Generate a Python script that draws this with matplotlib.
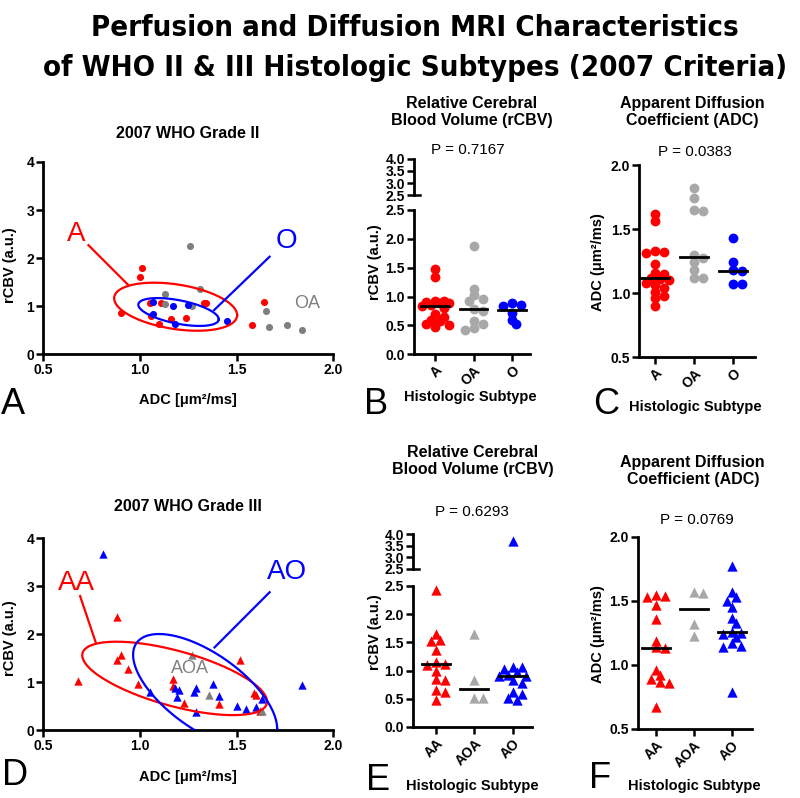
import numpy as np
import matplotlib
matplotlib.use('Agg')
import matplotlib.pyplot as plt
from matplotlib import font_manager as fm

plt.rcParams['font.family'] = ['Liberation Sans', 'DejaVu Sans']
plt.rcParams['font.weight'] = 'bold'

RED, BLUE = '#ff0000', '#0000ff'
GRAY_DARK, GRAY_LIGHT = '#7f7f7f', '#a8a8a8'

# ---- grade II scatter (ADC vs rCBV) ----
g2_A_adc = [0.90, 1.00, 1.01, 1.05, 1.06, 1.10, 1.11, 1.16, 1.24, 1.33, 1.34, 1.58, 1.64]
g2_A_rcbv = [0.86, 1.60, 1.79, 1.06, 0.80, 0.63, 1.06, 0.74, 0.76, 1.07, 1.07, 0.61, 1.08]
g2_OA_adc = [1.13, 1.13, 1.27, 1.26, 1.31, 1.65, 1.67, 1.76, 1.84]
g2_OA_rcbv = [1.25, 1.04, 1.00, 2.25, 1.35, 0.90, 0.57, 0.60, 0.51]
g2_O_adc = [1.07, 1.07, 1.17, 1.18, 1.25, 1.45]
g2_O_rcbv = [1.08, 0.83, 1.00, 0.64, 1.02, 0.69]

# ---- grade III scatter ----
g3_AA_adc = [0.68, 0.88, 0.88, 0.90, 0.94, 0.99, 1.17, 1.17, 1.23, 1.41, 1.52, 1.59, 1.60, 1.62]
g3_AA_rcbv = [1.03, 2.35, 1.46, 1.56, 1.28, 0.96, 1.06, 0.92, 0.56, 0.54, 1.46, 0.78, 0.73, 0.40]
g3_AOA_adc = [1.27, 1.36, 1.63]
g3_AOA_rcbv = [1.56, 0.73, 0.40]
g3_AO_adc = [0.81, 1.05, 1.18, 1.19, 1.20, 1.28, 1.29, 1.29, 1.38, 1.41, 1.50, 1.55, 1.60, 1.63, 1.84]
g3_AO_rcbv = [3.67, 0.79, 0.87, 0.69, 0.84, 0.80, 0.87, 0.38, 0.96, 0.71, 0.49, 0.43, 0.47, 0.64, 0.94]

# ellipses: centre x, centre y, half-width x, half-height y, cos(phase)
ell_g2_A = (1.185, 0.99, 0.318, 0.50, -0.35)
ell_g2_O = (1.20, 0.88, 0.208, 0.29, -0.52)
ell_g3_AA = (1.18, 1.075, 0.478, 0.765, -0.63)
ell_g3_AO = (1.3375, 0.80, 0.3725, 1.2, -0.64)

# ---- dot plots ----
cats_g2 = ['A', 'OA', 'O']
cats_g3 = ['AA', 'AOA', 'AO']
rcbv_g2 = [[1.48, 1.33, 0.93, 0.92, 0.90, 0.89, 0.88, 0.86, 0.84, 0.80, 0.70, 0.65, 0.60, 0.57, 0.52, 0.50, 0.48],
           [1.87, 1.13, 1.02, 0.95, 0.93, 0.78, 0.75, 0.58, 0.52, 0.45, 0.42],
           [0.88, 0.86, 0.84, 0.71, 0.60, 0.52]]
adc_g2 = [[1.62, 1.56, 1.33, 1.32, 1.31, 1.23, 1.16, 1.15, 1.12, 1.11, 1.10, 1.08, 1.06, 1.04, 1.01, 0.98, 0.96, 0.90],
          [1.82, 1.74, 1.65, 1.64, 1.30, 1.27, 1.24, 1.18, 1.12, 1.12],
          [1.43, 1.24, 1.18, 1.17, 1.07, 1.07]]
rcbv_g3 = [[2.42, 1.65, 1.55, 1.53, 1.37, 1.15, 1.12, 1.10, 1.00, 0.85, 0.83, 0.65, 0.62, 0.48],
           [1.65, 0.83, 0.52, 0.52],
           [3.70, 1.07, 1.06, 1.02, 0.98, 0.93, 0.91, 0.90, 0.84, 0.78, 0.62, 0.58, 0.52, 0.48]]
adc_g3 = [[1.55, 1.54, 1.53, 1.47, 1.36, 1.19, 1.14, 1.13, 0.96, 0.92, 0.89, 0.87, 0.86, 0.67],
          [1.57, 1.56, 1.32, 1.23],
          [1.77, 1.57, 1.53, 1.50, 1.45, 1.37, 1.33, 1.26, 1.25, 1.24, 1.22, 1.17, 1.15, 1.14, 0.79]]
p_vals = ['P = 0.7167', 'P = 0.0383', 'P = 0.6293', 'P = 0.0769']
title_lines = ['Perfusion and Diffusion MRI Characteristics',
               'of WHO II & III Histologic Subtypes (2007 Criteria)']

fig = plt.figure(figsize=(8, 7.98), dpi=100)


def style(ax, left_only=False):
    ax.spines['top'].set_visible(False)
    ax.spines['right'].set_visible(False)
    ax.spines['left'].set_linewidth(2)
    ax.spines['bottom'].set_linewidth(2)
    if left_only:
        ax.spines['bottom'].set_visible(False)
        ax.set_xticks([])
    ax.tick_params(direction='out', length=5, width=1.8, labelsize=10, pad=1.5)
    ax.set_facecolor('none')


def ellipse(ax, params, color):
    cx, cy, a, b, c = params
    t = np.linspace(0, 2 * np.pi, 300)
    d = np.arccos(c)
    ax.plot(cx + a * np.cos(t), cy + b * np.cos(t - d), color=color, lw=1.6, zorder=4)


def swarm_x(ax, x0, vals, diam, max_off=14):
    # small beeswarm in pixel space; points may overlap once the row is full
    cands = [0.0]
    step = diam * 0.45
    k = 1
    while k * step <= max_off:
        cands += [k * step, -k * step]
        k += 1
    placed = []
    xs = []
    for v in vals:
        px, py = ax.transData.transform((x0, v))
        best, best_d = None, -1
        for off in cands:
            d = min([np.hypot(px + off - qx, py - qy) for qx, qy in placed] or [1e9])
            if d >= 0.62 * diam:
                best = off
                break
            if d > best_d:
                best, best_d = off, d
        placed.append((px + best, py))
        xs.append(ax.transData.inverted().transform((px + best, py))[0])
    return xs


def scatter_panel(rect, groups, marker, size, ells, labels):
    ax = fig.add_axes(rect)
    style(ax)
    for adc, rcbv, col in groups:
        ax.scatter(adc, rcbv, s=size, color=col, marker=marker, linewidths=0, zorder=3)
    for params, col in ells:
        ellipse(ax, params, col)
    for txt, pos, col, fs, line in labels:
        ax.text(pos[0], pos[1], txt, color=col, fontsize=fs, fontweight='normal',
                ha='center', va='center')
        if line is not None:
            ax.plot(line[0], line[1], color=col, lw=1.6, zorder=4)
    ax.set_xlim(0.5, 2.0)
    ax.set_ylim(0, 4)
    ax.set_xticks([0.5, 1.0, 1.5, 2.0])
    ax.set_xticklabels(['0.5', '1.0', '1.5', '2.0'])
    ax.set_yticks([0, 1, 2, 3, 4])
    return ax


def dot_panel(rect, xlim, ylim, yticks, groups, cats, colors, marker, size, upper_rect=None):
    ax = fig.add_axes(rect)
    style(ax)
    ax.set_xlim(*xlim)
    ax.set_ylim(*ylim)
    up = None
    if upper_rect is not None:
        up = fig.add_axes(upper_rect)
        style(up, left_only=True)
        up.set_xlim(*xlim)
        up.set_ylim(2.5, 4.0)
        up.set_yticks([2.5, 3.0, 3.5, 4.0])
        up.set_yticklabels(['2.5', '3.0', '3.5', '4.0'])
        up.plot([0, 0.05], [0, 0], transform=up.transAxes, color='k', lw=1.8, clip_on=False)
    for i, (vals, col) in enumerate(zip(groups, colors)):
        low = sorted([v for v in vals if v <= ylim[1]], reverse=True)
        high = [v for v in vals if v > ylim[1]]
        xs = swarm_x(ax, i, low, 10)
        ax.scatter(xs, low, s=size, color=col, marker=marker, linewidths=0, zorder=3, clip_on=False)
        if high and up is not None:
            up.scatter([i] * len(high), high, s=size, color=col, marker=marker, linewidths=0,
                       zorder=3, clip_on=False)
        med = np.median(vals)
        ax.plot([i - 0.36, i + 0.36], [med, med], color='k', lw=2, zorder=4)
    ax.set_xticks(range(len(cats)))
    ax.set_xticklabels(cats, rotation=45, ha='right', va='top', rotation_mode='anchor')
    ax.set_yticks(yticks)
    ax.set_yticklabels(['%.1f' % v for v in yticks])
    return ax


# Panel A
scatter_panel([0.054, 0.556, 0.3625, 0.241],
              [(g2_A_adc, g2_A_rcbv, RED), (g2_OA_adc, g2_OA_rcbv, GRAY_DARK), (g2_O_adc, g2_O_rcbv, BLUE)],
              'o', 26, [(ell_g2_A, RED), (ell_g2_O, BLUE)],
              [('A', (0.67, 2.51), RED, 20, ([0.734, 0.938], [2.27, 1.45])),
               ('O', (1.757, 2.36), BLUE, 20, ([1.671, 1.384], [2.03, 0.92])),
               ('OA', (1.864, 1.06), GRAY_DARK, 13, None)])

# Panel D
scatter_panel([0.054, 0.0852, 0.3625, 0.2406],
              [(g3_AA_adc, g3_AA_rcbv, RED), (g3_AO_adc, g3_AO_rcbv, BLUE), (g3_AOA_adc, g3_AOA_rcbv, GRAY_DARK)],
              '^', 36, [(ell_g3_AA, RED), (ell_g3_AO, BLUE)],
              [('AA', (0.674, 3.07), RED, 20, ([0.691, 0.773], [2.79, 1.81])),
               ('AO', (1.76, 3.30), BLUE, 20, ([1.671, 1.386], [2.87, 1.72])),
               ('AOA', (1.257, 1.29), GRAY_DARK, 13, None)])

cols = [RED, GRAY_LIGHT, BLUE]
dot_panel([0.5175, 0.556, 0.145, 0.181], (-0.55, 2.47), (0, 2.5), [0, 0.5, 1.0, 1.5, 2.0, 2.5],
          rcbv_g2, cats_g2, cols, 'o', 50, upper_rect=[0.5175, 0.7556, 0.145, 0.0452])
dot_panel([0.799, 0.5526, 0.145, 0.2406], (-0.41, 2.56), (0.5, 2.0), [0.5, 1.0, 1.5, 2.0],
          adc_g2, cats_g2, cols, 'o', 50)
dot_panel([0.516, 0.089, 0.149, 0.1767], (-0.6, 2.5), (0, 2.5), [0, 0.5, 1.0, 1.5, 2.0, 2.5],
          rcbv_g3, cats_g3, cols, '^', 55, upper_rect=[0.516, 0.287, 0.149, 0.0438])
dot_panel([0.7975, 0.0865, 0.1425, 0.2406], (-0.47, 2.53), (0.5, 2.0), [0.5, 1.0, 1.5, 2.0],
          adc_g3, cats_g3, cols, '^', 55)

# main title: use a condensed bold face when one is installed, then fit the width
cond = [f for f in fm.fontManager.ttflist
        if ('Narrow' in f.name or 'Condensed' in f.name or 'condensed' in str(f.stretch))]
cond_bold = [f for f in cond if str(f.weight) in ('bold', '700', '600', 'semibold', 'demibold')]
if cond_bold:
    tprop = fm.FontProperties(fname=cond_bold[0].fname)
elif cond:
    tprop = fm.FontProperties(fname=cond[0].fname, weight='bold')
else:
    tprop = fm.FontProperties(family=['Liberation Sans', 'DejaVu Sans'], weight='bold')
titles = [fig.text(0.519, y, s, ha='center', va='center', fontproperties=tprop)
          for s, y in zip(title_lines, [0.965, 0.915])]
for t in titles:
    t.set_fontsize(24)
renderer = fig.canvas.get_renderer()
w = titles[1].get_window_extent(renderer).width
for t in titles:
    t.set_fontsize(min(24 * 745 / w, 26))

fig.text(0.235, 0.8333, '2007 WHO Grade II', ha='center', va='center', fontsize=11.5)
fig.text(0.235, 0.3647, '2007 WHO Grade III', ha='center', va='center', fontsize=11.5)
for x, y in [(0.59, 0.8596), (0.591, 0.4223)]:
    fig.text(x, y, 'Relative Cerebral\nBlood Volume (rCBV)', ha='center', va='center', fontsize=11.5,
             linespacing=1.15)
for x, y in [(0.865, 0.8596), (0.866, 0.4098)]:
    fig.text(x, y, 'Apparent Diffusion\nCoefficient (ADC)', ha='center', va='center', fontsize=11.5,
             linespacing=1.15)
for txt, x, y in zip(p_vals, [0.585, 0.869, 0.59, 0.871], [0.812, 0.8095, 0.3584, 0.3484]):
    fig.text(x, y, txt, ha='center', va='center', fontsize=11, fontweight='normal')

for y in [0.4987, 0.0263]:
    fig.text(0.235, y, 'ADC [μm²/ms]', ha='center', va='center', fontsize=10.5)
for x, y in [(0.012, 0.668), (0.012, 0.2005), (0.469, 0.672), (0.469, 0.208)]:
    fig.text(x, y, 'rCBV (a.u.)', ha='center', va='center', rotation=90, fontsize=10.5)
for x, y in [(0.7475, 0.672), (0.7475, 0.2055)]:
    fig.text(x, y, 'ADC (μm²/ms)', ha='center', va='center', rotation=90, fontsize=10.5)
for x, y in [(0.5875, 0.5025), (0.869, 0.49), (0.591, 0.0155), (0.8675, 0.0155)]:
    fig.text(x, y, 'Histologic Subtype', ha='center', va='center', fontsize=10.5)
for txt, x, y in [('A', 0.016, 0.4937), ('B', 0.47, 0.4925), ('C', 0.7575, 0.4937),
                  ('D', 0.019, 0.0288), ('E', 0.4725, 0.022), ('F', 0.75, 0.025)]:
    fig.text(x, y, txt, ha='center', va='center', fontsize=26, fontweight='normal')

fig.savefig('out.png', dpi=100)
